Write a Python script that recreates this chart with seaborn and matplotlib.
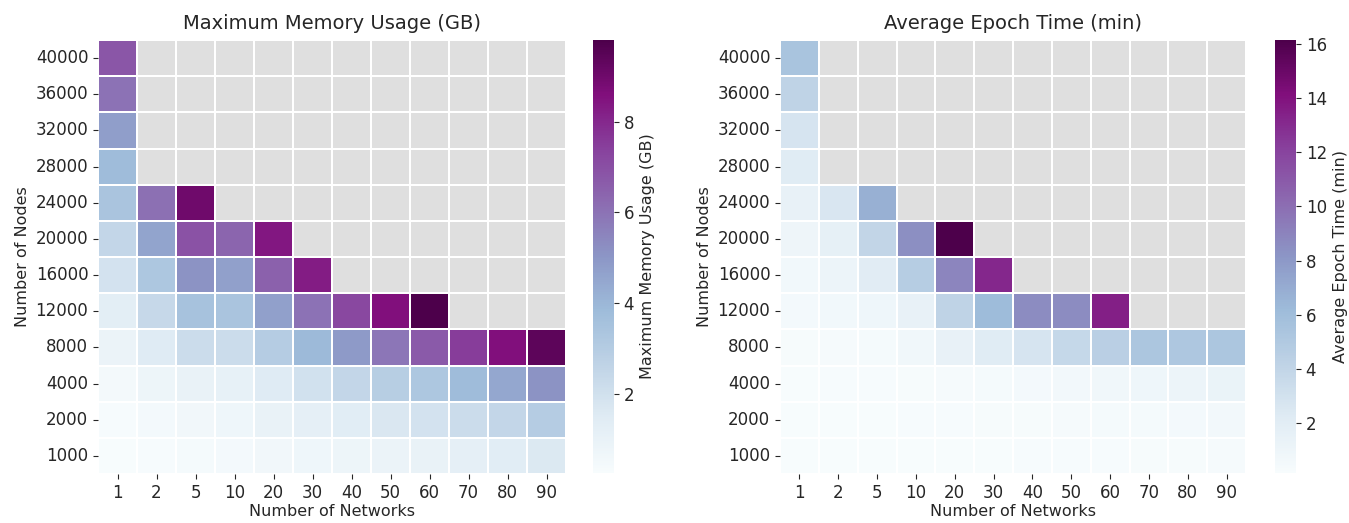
import numpy as np
import pandas as pd
import matplotlib
matplotlib.use("Agg")
import matplotlib.pyplot as plt
from matplotlib.colors import ListedColormap
import seaborn as sns

nan = np.nan

num_nodes = [40000, 36000, 32000, 28000, 24000, 20000, 16000, 12000, 8000, 4000, 2000, 1000]
num_networks = [1, 2, 5, 10, 20, 30, 40, 50, 60, 70, 80, 90]

# Peak memory (GB); rows follow num_nodes, columns follow num_networks
memory_40000 = [6.8] + [nan] * 11
memory_36000 = [6.0] + [nan] * 11
memory_32000 = [4.8] + [nan] * 11
memory_28000 = [3.8] + [nan] * 11
memory_24000 = [3.4, 6.1, 9.0] + [nan] * 9
memory_20000 = [2.5, 4.6, 6.9, 6.4, 8.4] + [nan] * 7
memory_16000 = [1.9, 3.3, 5.1, 4.7, 6.5, 8.3] + [nan] * 6
memory_12000 = [1.3, 2.4, 3.5, 3.4, 4.7, 6.0, 7.2, 8.6, 9.8] + [nan] * 3
memory_8000 = [0.9, 1.5, 2.2, 2.2, 3.0, 3.9, 4.9, 5.9, 6.7, 7.5, 8.6, 9.4]
memory_4000 = [0.5, 0.8, 1.0, 1.1, 1.5, 2.0, 2.5, 2.9, 3.3, 3.8, 4.5, 5.1]
memory_2000 = [0.3, 0.45, 0.6, 0.7, 1.0, 1.2, 1.4, 1.7, 1.9, 2.2, 2.5, 3.0]
memory_1000 = [0.25, 0.3, 0.4, 0.45, 0.6, 0.7, 0.8, 0.9, 1.0, 1.2, 1.4, 1.6]

# Mean epoch duration (min)
epoch_40000 = [5.5] + [nan] * 11
epoch_36000 = [4.2] + [nan] * 11
epoch_32000 = [2.8] + [nan] * 11
epoch_28000 = [2.2] + [nan] * 11
epoch_24000 = [1.5, 2.6, 6.8] + [nan] * 9
epoch_20000 = [1.0, 1.7, 4.0, 8.5, 16.15] + [nan] * 7
epoch_16000 = [0.7, 1.1, 2.1, 4.7, 8.9, 13.2] + [nan] * 6
epoch_12000 = [0.5, 0.7, 0.9, 1.5, 4.2, 6.2, 8.6, 8.6, 13.5] + [nan] * 3
epoch_8000 = [0.3, 0.35, 0.45, 0.8, 1.5, 2.2, 2.8, 3.8, 4.5, 5.3, 5.2, 5.3]
epoch_4000 = [0.2, 0.22, 0.25, 0.3, 0.35, 0.4, 0.5, 0.6, 0.8, 0.9, 1.1, 1.3]
epoch_2000 = [0.15, 0.17, 0.2, 0.22, 0.25, 0.28, 0.3, 0.35, 0.4, 0.45, 0.5, 0.6]
epoch_1000 = [0.15, 0.15, 0.16, 0.17, 0.18, 0.2, 0.22, 0.24, 0.26, 0.28, 0.3, 0.35]

memory = pd.DataFrame(
    [memory_40000, memory_36000, memory_32000, memory_28000, memory_24000, memory_20000,
     memory_16000, memory_12000, memory_8000, memory_4000, memory_2000, memory_1000],
    index=num_nodes, columns=num_networks)
epoch = pd.DataFrame(
    [epoch_40000, epoch_36000, epoch_32000, epoch_28000, epoch_24000, epoch_20000,
     epoch_16000, epoch_12000, epoch_8000, epoch_4000, epoch_2000, epoch_1000],
    index=num_nodes, columns=num_networks)

W, H = 1349, 523
fig = plt.figure(figsize=(W / 100, H / 100), dpi=100)


def box(x0, y0, x1, y1):
    return [x0 / W, 1 - y1 / H, (x1 - x0) / W, (y1 - y0) / H]


text_color = "#262626"
missing = ListedColormap(["#dfdfdf"])


def draw(df, ax, cax, title, label):
    # grey tiles for configurations that did not run
    sns.heatmap(df.isna().astype(float).where(df.isna()), ax=ax, cmap=missing,
                cbar=False, linewidths=1.4, linecolor="white")
    sns.heatmap(df, ax=ax, cbar_ax=cax, cmap="BuPu", linewidths=1.4,
                linecolor="white", cbar_kws={"label": label})
    ax.set_title(title, fontsize=14, color=text_color, pad=8)
    ax.set_xlabel("Number of Networks", fontsize=11.5, color=text_color, labelpad=2)
    ax.set_ylabel("Number of Nodes", fontsize=11.5, color=text_color)
    ax.tick_params(labelsize=12, colors=text_color)
    ax.set_yticklabels(ax.get_yticklabels(), rotation=0)
    ax.set_xticklabels(ax.get_xticklabels(), rotation=0)
    cax.tick_params(labelsize=12, colors=text_color)
    cax.yaxis.label.set_size(11.5)
    cax.yaxis.label.set_color(text_color)


ax1 = fig.add_axes(box(98, 40, 566, 474))
cax1 = fig.add_axes(box(593, 40, 614, 473))
ax2 = fig.add_axes(box(780, 40, 1246, 474))
cax2 = fig.add_axes(box(1275, 40, 1296, 473))

draw(memory, ax1, cax1, "Maximum Memory Usage (GB)", "Maximum Memory Usage (GB)")
draw(epoch, ax2, cax2, "Average Epoch Time (min)", "Average Epoch Time (min)")

fig.savefig("out.png", dpi=100)
